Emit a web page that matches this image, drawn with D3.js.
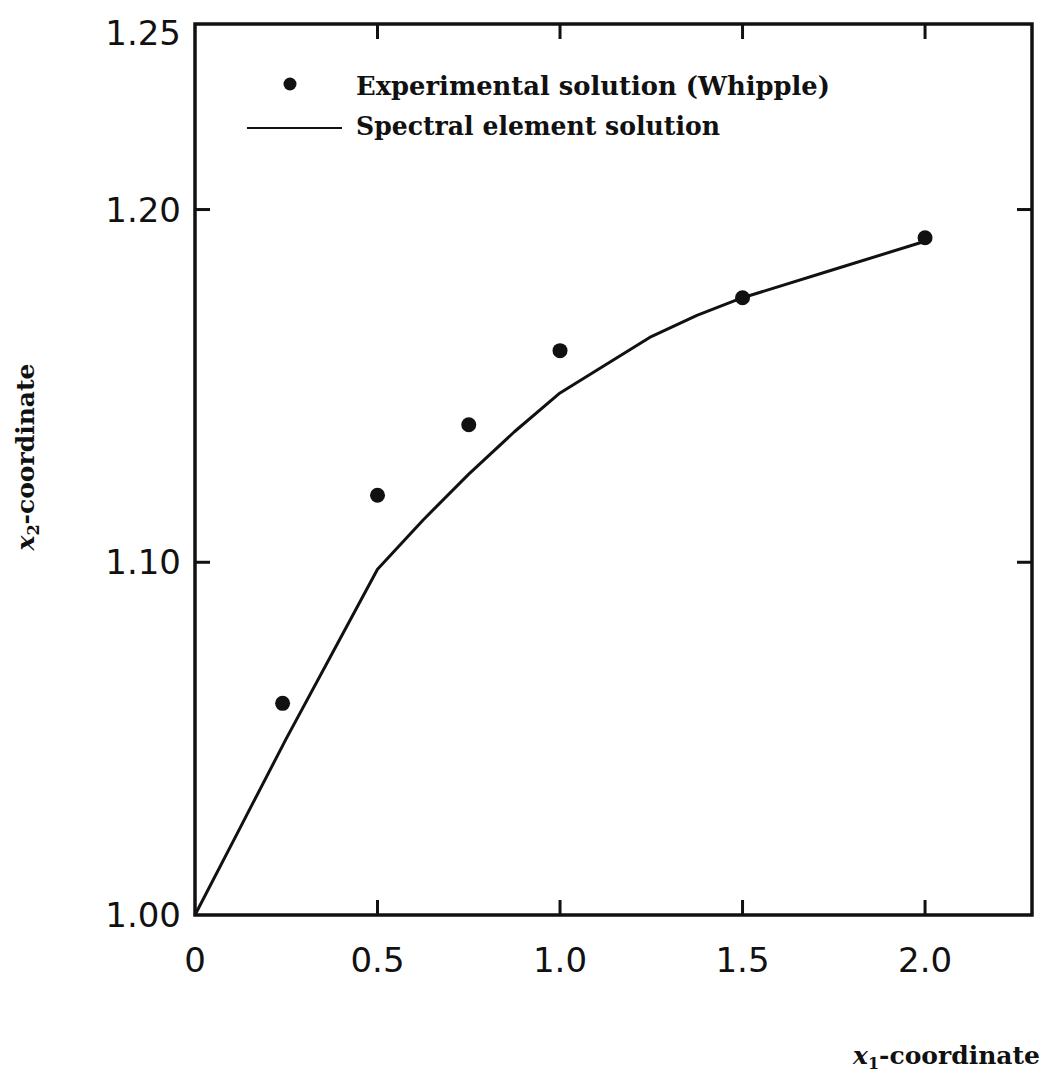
<!DOCTYPE html>
<html>
<head>
<meta charset="utf-8">
<script src="https://cdn.jsdelivr.net/npm/d3@7"></script>
<style>
  body { margin: 0; background: #fff; }
  .tick-lbl { font-family: "DejaVu Sans", sans-serif; font-size: 34px; fill: #111; }
  .serif { font-family: "DejaVu Serif", "Liberation Serif", serif; fill: #111; }
</style>
</head>
<body>
<svg id="chart" width="1047" height="1080"></svg>
<script>
// experimental points (Whipple)
var expX = [0.24, 0.5, 0.75, 1.0, 1.5, 2.0];
var expY = [1.060, 1.119, 1.139, 1.160, 1.175, 1.192];

// spectral element solution
var specX = [0, 0.125, 0.25, 0.375, 0.5, 0.625, 0.75, 0.875, 1.0, 1.125, 1.25, 1.375, 1.5, 1.75, 2.0];
var specY = [1.000, 1.025, 1.050, 1.074, 1.098, 1.112, 1.125, 1.137, 1.148, 1.156, 1.164, 1.170, 1.175, 1.183, 1.191];

var xTicks = [0, 0.5, 1.0, 1.5, 2.0];
var xTickLabels = ["0", "0.5", "1.0", "1.5", "2.0"];
var yTicks = [1.00, 1.10, 1.20, 1.25];
var yTickLabels = ["1.00", "1.10", "1.20", "1.25"];

var svg = d3.select("#chart"),
    margin = {left: 195, right: 15, top: 24, bottom: 165},
    width = +svg.attr("width") - margin.left - margin.right,
    height = +svg.attr("height") - margin.top - margin.bottom;

var x = d3.scaleLinear().domain([0, 2.293]).range([margin.left, margin.left + width]);
var y = d3.scaleLinear().domain([1.0, 1.2526]).range([margin.top + height, margin.top]);

var x0 = x(0), x1 = x.range()[1], yb = y(1.0), yt = y.range()[1];

// frame
svg.append("rect")
    .attr("x", x0).attr("y", yt)
    .attr("width", x1 - x0).attr("height", yb - yt)
    .style("fill", "none").style("stroke", "#111").style("stroke-width", 3.5);

// inner ticks, bottom and top
var tickLen = 15;
xTicks.slice(1).forEach(function (t) {
    svg.append("line").attr("x1", x(t)).attr("x2", x(t)).attr("y1", yb).attr("y2", yb - tickLen)
        .style("stroke", "#111").style("stroke-width", 3);
    svg.append("line").attr("x1", x(t)).attr("x2", x(t)).attr("y1", yt).attr("y2", yt + tickLen)
        .style("stroke", "#111").style("stroke-width", 3);
});
// inner ticks, left and right
[1.10, 1.20].forEach(function (t) {
    svg.append("line").attr("x1", x0).attr("x2", x0 + tickLen).attr("y1", y(t)).attr("y2", y(t))
        .style("stroke", "#111").style("stroke-width", 3);
    svg.append("line").attr("x1", x1).attr("x2", x1 - tickLen).attr("y1", y(t)).attr("y2", y(t))
        .style("stroke", "#111").style("stroke-width", 3);
});

// tick labels
svg.selectAll(".xl").data(xTicks).enter().append("text")
    .attr("class", "tick-lbl")
    .attr("x", d => x(d))
    .attr("y", yb + 57)
    .attr("text-anchor", "middle")
    .text((d, i) => xTickLabels[i]);

svg.selectAll(".yl").data(yTicks).enter().append("text")
    .attr("class", "tick-lbl")
    .attr("x", x0 - 14)
    .attr("y", d => y(d) + 12)
    .attr("text-anchor", "end")
    .text((d, i) => yTickLabels[i]);

// spectral element line
var line = d3.line().x(d => x(d[0])).y(d => y(d[1]));
svg.append("path")
    .datum(specX.map((v, i) => [v, specY[i]]))
    .attr("d", line)
    .style("fill", "none").style("stroke", "#111").style("stroke-width", 3)
    .style("stroke-linejoin", "round");

// experimental dots
svg.selectAll(".dot").data(expX).enter().append("circle")
    .attr("cx", d => x(d))
    .attr("cy", (d, i) => y(expY[i]))
    .attr("r", 7.5)
    .style("fill", "#111");

// legend
svg.append("circle").attr("cx", 290).attr("cy", 84).attr("r", 6.5).style("fill", "#111");
svg.append("text").attr("class", "serif")
    .attr("x", 356).attr("y", 95)
    .style("font-size", "26px").style("font-weight", "bold")
    .attr("textLength", 474).attr("lengthAdjust", "spacingAndGlyphs")
    .text("Experimental solution (Whipple)");
svg.append("line").attr("x1", 247).attr("x2", 342).attr("y1", 128).attr("y2", 128)
    .style("stroke", "#111").style("stroke-width", 2);
svg.append("text").attr("class", "serif")
    .attr("x", 356).attr("y", 135)
    .style("font-size", "26px").style("font-weight", "bold")
    .attr("textLength", 364).attr("lengthAdjust", "spacingAndGlyphs")
    .text("Spectral element solution");

// axis titles
var xt = svg.append("text").attr("class", "serif")
    .attr("x", 1040).attr("y", 1064)
    .attr("text-anchor", "end")
    .style("font-size", "25px").style("font-weight", "bold");
xt.append("tspan").style("font-style", "italic").text("x");
xt.append("tspan").attr("dy", 5).style("font-size", "16px").text("1");
xt.append("tspan").attr("dy", -5).text("-coordinate");

var yt2 = svg.append("text").attr("class", "serif")
    .attr("transform", "translate(34,457) rotate(-90)")
    .attr("text-anchor", "middle")
    .style("font-size", "25px").style("font-weight", "bold");
yt2.append("tspan").style("font-style", "italic").text("x");
yt2.append("tspan").attr("dy", 5).style("font-size", "16px").text("2");
yt2.append("tspan").attr("dy", -5).text("-coordinate");
</script>
</body>
</html>
